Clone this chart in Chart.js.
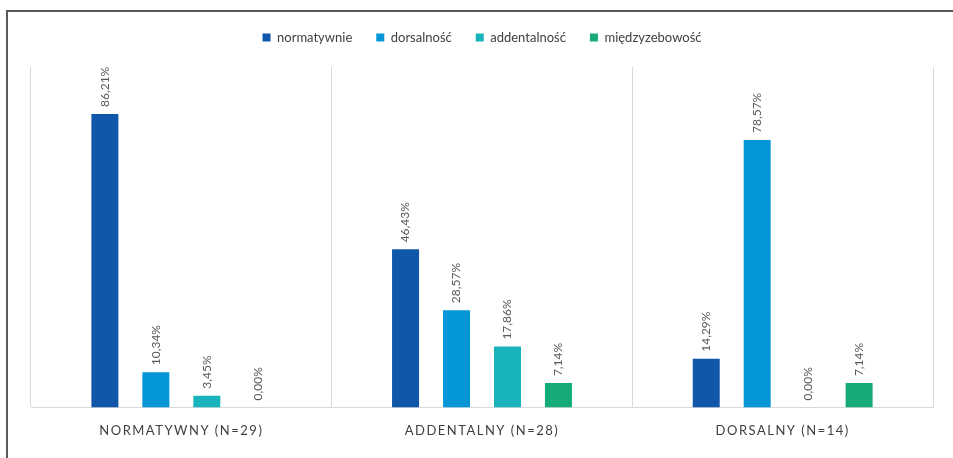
<!DOCTYPE html>
<html>
<head>
<meta charset="utf-8">
<script src="https://cdn.jsdelivr.net/npm/chart.js@4/dist/chart.umd.min.js"></script>
<style>
  html, body { margin: 0; padding: 0; background: #ffffff; }
  #wrap { position: relative; width: 953px; height: 458px; overflow: hidden; }
  #frame {
    position: absolute; left: 6px; top: 10px; width: 1000px; height: 500px;
    border-top: 2px solid #5a5a5a; border-left: 2px solid #5a5a5a; box-sizing: border-box;
  }
  #c { position: absolute; left: 0; top: 0; }
</style>
</head>
<body>
<div id="wrap">
  <div id="frame"></div>
  <canvas id="c" width="953" height="458"></canvas>
</div>
<script>
// Groups along the x axis
const categories = ['NORMATYWNY (N=29)', 'ADDENTALNY (N=28)', 'DORSALNY (N=14)'];

// Share of each realisation in every group (%)
const normatywnie    = [86.21, 46.43, 14.29];
const dorsalnosc     = [10.34, 28.57, 78.57];
const addentalnosc   = [3.45, 17.86, 0.00];
const miedzyzebowosc = [0.00, 7.14, 7.14];

const seriesNames = ['normatywnie', 'dorsalność', 'addentalność', 'międzyzebowość'];
const seriesColors = ['#1056a9', '#0596d7', '#19b3bb', '#14aa79'];

const fmt = v => v.toFixed(2).replace('.', ',') + '%';

// Rotated value labels above each bar
const valueLabels = {
  id: 'valueLabels',
  afterDatasetsDraw(chart) {
    const ctx = chart.ctx;
    ctx.save();
    ctx.font = '12px Lato, "Open Sans", sans-serif';
    ctx.fillStyle = '#595959';
    ctx.textAlign = 'left';
    ctx.textBaseline = 'middle';
    chart.data.datasets.forEach((ds, di) => {
      const meta = chart.getDatasetMeta(di);
      meta.data.forEach((bar, i) => {
        ctx.save();
        ctx.translate(bar.x, bar.y - 7);
        ctx.rotate(-Math.PI / 2);
        ctx.fillText(fmt(ds.data[i]), 0, 0);
        ctx.restore();
      });
    });
    ctx.restore();
  }
};

// Extra room between the legend and the plot, plus spaced-out x labels
const layoutTweaks = {
  id: 'layoutTweaks',
  beforeLayout(chart) {
    const lg = chart.legend;
    if (lg && !lg._tall) {
      const fit = lg.fit;
      lg.fit = function () {
        fit.call(this);
        this.height += 13;
        this.minSize && (this.minSize.height = this.height);
      };
      lg._tall = true;
    }
  },
  beforeDraw(chart) {
    const sc = chart.scales.x;
    if (sc && !sc._spaced) {
      const orig = sc.drawLabels;
      sc.drawLabels = function (area) {
        const ctx = this.ctx;
        ctx.save();
        ctx.letterSpacing = '1.5px';
        orig.call(this, area);
        ctx.restore();
      };
      sc._spaced = true;
    }
  }
};

const datasets = [normatywnie, dorsalnosc, addentalnosc, miedzyzebowosc].map((d, i) => ({
  label: seriesNames[i],
  data: d,
  backgroundColor: seriesColors[i],
  borderWidth: 0,
  categoryPercentage: 0.678,
  barPercentage: 0.53
}));

new Chart(document.getElementById('c'), {
  type: 'bar',
  data: { labels: categories, datasets },
  options: {
    responsive: false,
    animation: false,
    devicePixelRatio: 1,
    layout: { padding: { left: 31, right: 20, top: 7, bottom: 3 } },
    plugins: {
      legend: {
        position: 'top',
        labels: {
          boxWidth: 8,
          boxHeight: 8,
          padding: 24,
          color: '#404040',
          font: { family: 'Lato, "Open Sans", sans-serif', size: 13 }
        }
      },
      tooltip: { enabled: false }
    },
    scales: {
      x: {
        grid: { offset: true, color: '#d9d9d9', drawTicks: false, lineWidth: 1 },
        border: { display: true, color: '#d9d9d9' },
        ticks: {
          padding: 16,
          color: '#404040',
          font: { family: 'Lato, "Open Sans", sans-serif', size: 13 }
        }
      },
      y: {
        display: false,
        min: 0,
        max: 100
      }
    }
  },
  plugins: [valueLabels, layoutTweaks]
});
</script>
</body>
</html>
